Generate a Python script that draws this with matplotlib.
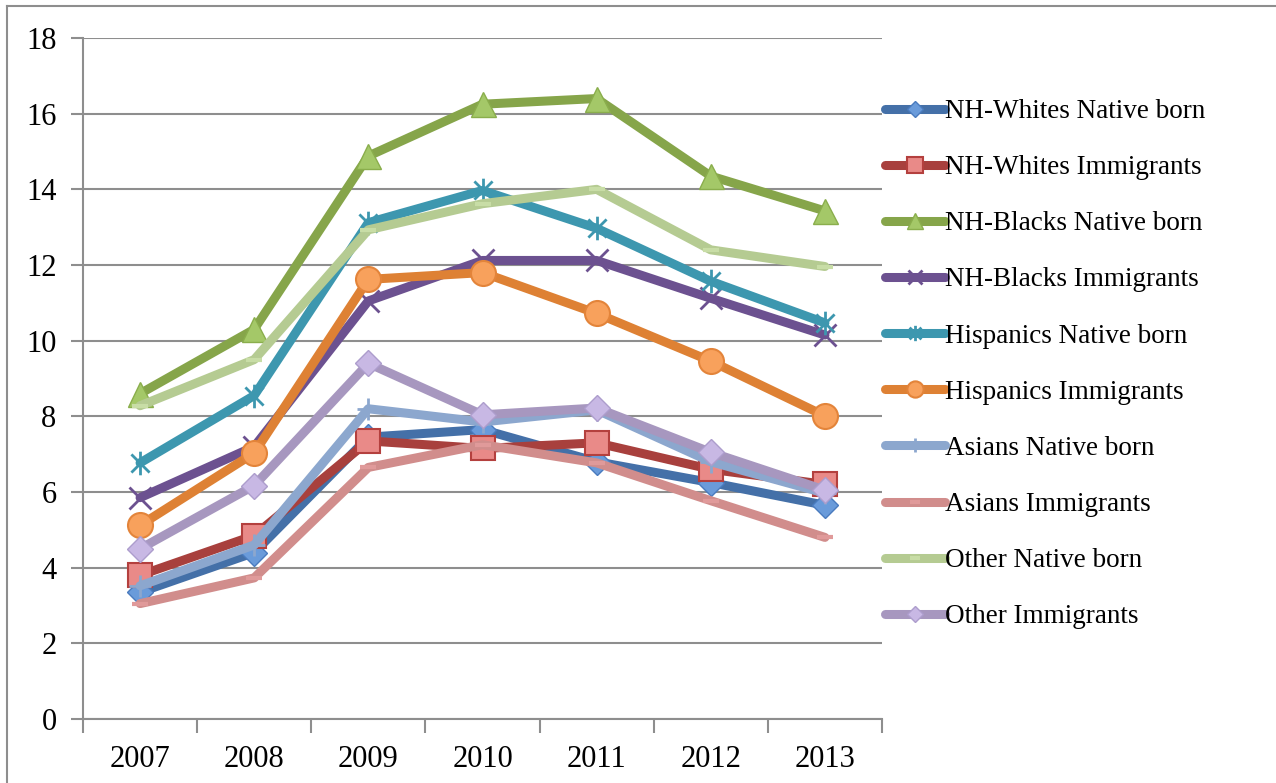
import matplotlib.pyplot as plt
from matplotlib.lines import Line2D
from matplotlib.path import Path

years = ['2007', '2008', '2009', '2010', '2011', '2012', '2013']

nhw_native = [3.35, 4.4, 7.45, 7.65, 6.8, 6.25, 5.65]
nhw_immig = [3.8, 4.85, 7.35, 7.15, 7.3, 6.6, 6.2]
nhb_native = [8.6, 10.3, 14.88, 16.25, 16.4, 14.35, 13.43]
nhb_immig = [5.85, 7.2, 11.05, 12.12, 12.12, 11.12, 10.15]
hisp_native = [6.77, 8.55, 13.12, 13.97, 12.97, 11.57, 10.47]
hisp_immig = [5.12, 7.03, 11.62, 11.8, 10.72, 9.46, 8.01]
asian_native = [3.52, 4.6, 8.2, 7.85, 8.17, 6.8, 5.97]
asian_immig = [3.05, 3.73, 6.65, 7.25, 6.77, 5.77, 4.8]
other_native = [8.28, 9.5, 12.93, 13.62, 14.0, 12.4, 11.96]
other_immig = [4.5, 6.17, 9.4, 8.04, 8.22, 7.05, 6.05]

labels = ['NH-Whites Native born', 'NH-Whites Immigrants', 'NH-Blacks Native born',
          'NH-Blacks Immigrants', 'Hispanics Native born', 'Hispanics Immigrants',
          'Asians Native born', 'Asians Immigrants', 'Other Native born', 'Other Immigrants']

# asterisk marker like excel's star
star = Path([(-1, -1), (1, 1), (-1, 1), (1, -1), (0, -1.3), (0, 1.3)],
            [Path.MOVETO, Path.LINETO, Path.MOVETO, Path.LINETO, Path.MOVETO, Path.LINETO])

styles = [
    dict(color='#4470A8', marker='D', ms=13, mfc='#6A9BDA', mec='#4A7BBE', mew=1),
    dict(color='#A8403D', marker='s', ms=17, mfc='#E98A88', mec='#B4403E', mew=1.5),
    dict(color='#86A54A', marker='^', ms=18, mfc='#A4C868', mec='#8AAE4C', mew=1),
    dict(color='#6C5190', marker='x', ms=16, mfc='none', mec='#6C5190', mew=2),
    dict(color='#3D97AF', marker=star, ms=17, mfc='none', mec='#3D97AF', mew=2),
    dict(color='#DE8134', marker='o', ms=18, mfc='#F8A15C', mec='#E3843A', mew=1.5),
    dict(color='#8CA7CE', marker='+', ms=16, mfc='none', mec='#8CA7CE', mew=2),
    dict(color='#D18D8C', marker='_', ms=12, mfc='none', mec='#E09A9A', mew=3),
    dict(color='#B5CB92', marker='_', ms=12, mfc='none', mec='#C8DDA6', mew=3),
    dict(color='#A797BF', marker='D', ms=13, mfc='#C8B8E4', mec='#AD9DCC', mew=1),
]

series = [nhw_native, nhw_immig, nhb_native, nhb_immig, hisp_native,
          hisp_immig, asian_native, asian_immig, other_native, other_immig]

plt.rcParams['font.family'] = ['Liberation Serif', 'DejaVu Serif']

fig = plt.figure(figsize=(12.76, 7.83), dpi=100)
ax = fig.add_axes([83 / 1276, 1 - 719 / 783, 799 / 1276, 681 / 783])

x = list(range(len(years)))
for vals, lab, st in zip(series, labels, styles):
    ax.plot(x, vals, lw=6.5, label=lab, solid_capstyle='round',
            solid_joinstyle='round', **st)

grid_c = '#8E8E8E'
ax.set_ylim(0, 18)
ax.set_yticks(range(0, 19, 2))
ax.set_xlim(-0.5, 6.5)
ax.set_xticks([i - 0.5 for i in range(8)])
ax.set_xticklabels([])
ax.set_xticks(x, minor=True)
ax.set_xticklabels(years, minor=True)
ax.tick_params(axis='x', which='minor', length=0, pad=19, labelsize=22)
ax.tick_params(axis='x', which='major', length=10, width=1.5, color=grid_c)
ax.tick_params(axis='y', length=9, width=1.5, color=grid_c, pad=10, labelsize=22)
ax.yaxis.grid(True, color=grid_c, lw=1.5)
ax.set_axisbelow(True)
for s in ['top', 'right']:
    ax.spines[s].set_visible(False)
for s in ['left', 'bottom']:
    ax.spines[s].set_color(grid_c)
    ax.spines[s].set_linewidth(1.5)

ax.legend(loc='upper left', bbox_to_anchor=(885 / 1276, 1 - 99 / 783),
          bbox_transform=fig.transFigure, frameon=False, fontsize=19.5,
          handlelength=2.2, handletextpad=0.0, labelspacing=1.15,
          borderaxespad=0, borderpad=0, markerscale=0.65)

# outer chart border
fig.add_artist(Line2D([7 / 1276, 7 / 1276], [0, 1 - 6 / 783], color=grid_c, lw=1.5))
fig.add_artist(Line2D([7 / 1276, 1], [1 - 6 / 783, 1 - 6 / 783], color=grid_c, lw=1.5))

fig.savefig('out.png', dpi=100)
